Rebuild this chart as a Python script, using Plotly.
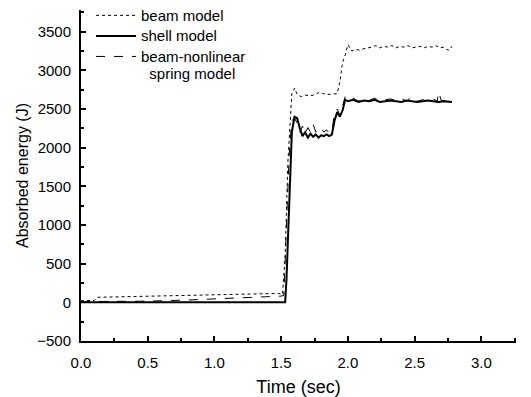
import plotly.graph_objects as go

# Beam model (dotted)
beam_t = [0.0, 0.05, 0.10, 0.12, 0.3, 0.5, 0.8, 1.0, 1.2, 1.4, 1.48, 1.51, 1.53, 1.55, 1.57, 1.58, 1.60, 1.62, 1.65,
          1.68, 1.72, 1.76, 1.79, 1.81, 1.84, 1.88, 1.92, 1.94, 1.96, 1.98, 2.00, 2.03, 2.06, 2.09, 2.12, 2.15,
          2.18, 2.21, 2.24, 2.27, 2.30, 2.33, 2.36, 2.39, 2.42, 2.45, 2.48, 2.51, 2.54, 2.57, 2.60, 2.63, 2.66,
          2.69, 2.72, 2.74, 2.76, 2.78]
beam_v = [20, 22, 25, 65, 72, 80, 88, 92, 100, 108, 115, 100, 600, 1800, 2500, 2700, 2770, 2690, 2660,
          2680, 2670, 2690, 2720, 2700, 2690, 2690, 2700, 2850, 3100, 3200, 3330, 3250, 3270, 3260, 3280, 3290,
          3300, 3320, 3290, 3310, 3300, 3320, 3290, 3310, 3300, 3320, 3290, 3300, 3310, 3290, 3310, 3300, 3320,
          3290, 3300, 3270, 3260, 3310]

# Shell model (solid)
shell_t = [0.0, 0.5, 1.0, 1.53, 1.54, 1.56, 1.58, 1.60, 1.62, 1.64, 1.66, 1.68, 1.70, 1.72, 1.74, 1.76, 1.78,
           1.80, 1.82, 1.84, 1.86, 1.88, 1.90, 1.92, 1.94, 1.96, 1.98, 2.00, 2.04, 2.08, 2.12, 2.16, 2.20, 2.24,
           2.28, 2.32, 2.36, 2.40, 2.44, 2.48, 2.52, 2.56, 2.60, 2.64, 2.68, 2.72, 2.78]
shell_v = [0, 0, 0, 0, 300, 1400, 2200, 2400, 2380, 2250, 2150, 2200, 2130, 2180, 2140, 2170, 2130, 2160,
           2150, 2170, 2150, 2170, 2350, 2460, 2400, 2480, 2620, 2600, 2620, 2590, 2610, 2600, 2620, 2590,
           2600, 2610, 2600, 2590, 2610, 2600, 2590, 2600, 2610, 2600, 2590, 2600, 2590]

# Beam-nonlinear spring model (dashed)
bns_t = [0.0, 0.2, 0.5, 0.8, 1.0, 1.2, 1.4, 1.50, 1.52, 1.54, 1.56, 1.58, 1.60, 1.62, 1.64, 1.66, 1.68, 1.70,
         1.72, 1.74, 1.76, 1.78, 1.80, 1.82, 1.84, 1.86, 1.88, 1.90, 1.92, 1.94, 1.96, 1.98, 2.00, 2.04, 2.08,
         2.12, 2.16, 2.20, 2.24, 2.28, 2.32, 2.36, 2.40, 2.44, 2.48, 2.52, 2.56, 2.60, 2.64, 2.67, 2.68, 2.70,
         2.74, 2.78]
bns_v = [10, 12, 15, 30, 45, 55, 70, 80, 90, 900, 1900, 2350, 2380, 2320, 2200, 2280, 2180, 2260, 2200,
         2300, 2200, 2260, 2250, 2200, 2230, 2190, 2210, 2450, 2500, 2420, 2560, 2660, 2620, 2640, 2600, 2630,
         2610, 2640, 2600, 2620, 2630, 2610, 2640, 2600, 2660, 2600, 2620, 2600, 2630, 2600, 2720, 2610,
         2600, 2600]

names = ["beam model", "shell model", "beam-nonlinear<br>\u00a0\u00a0spring model"]


def big(s):
    return "<br>".join('<span style="font-size:15px">%s</span>' % p for p in s.split("<br>"))


fig = go.Figure()
fig.add_trace(go.Scatter(x=beam_t, y=beam_v, mode="lines", name=big(names[0]),
                         line=dict(color="black", width=1, dash="dot")))
fig.add_trace(go.Scatter(x=shell_t, y=shell_v, mode="lines", name=big(names[1]),
                         line=dict(color="black", width=2)))
fig.add_trace(go.Scatter(x=bns_t, y=bns_v, mode="lines", name=big(names[2]),
                         line=dict(color="black", width=1, dash="dash")))

font = "Liberation Sans, Arial, sans-serif"
fig.update_layout(
    width=531, height=397,
    margin=dict(l=81, r=15, t=10, b=56, autoexpand=False),
    paper_bgcolor="white", plot_bgcolor="white",
    font=dict(family=font, size=15, color="black"),
    showlegend=True,
    legend=dict(x=0.023, y=1.03, xanchor="left", yanchor="top", valign="top",
                bgcolor="rgba(0,0,0,0)", font=dict(size=13.5), tracegroupgap=0, itemwidth=40),
    xaxis=dict(range=[0, 3.26], tickvals=[0, 0.5, 1.0, 1.5, 2.0, 2.5, 3.0],
               ticktext=["0.0", "0.5", "1.0", "1.5", "2.0", "2.5", "3.0"],
               showline=True, linecolor="black", linewidth=2, mirror=False,
               ticks="inside", ticklen=5, tickwidth=2, tickcolor="black", ticklabelstandoff=7,
               minor=dict(dtick=0.25, ticks="inside", ticklen=3, tickcolor="black", tickwidth=1.5),
               showgrid=False, zeroline=False,
               title=dict(text="Time (sec)", font=dict(size=18), standoff=12)),
    yaxis=dict(range=[-500, 3780], tickvals=[-500, 0, 500, 1000, 1500, 2000, 2500, 3000, 3500],
               showline=True, linecolor="black", linewidth=2, mirror=False,
               ticks="inside", ticklen=5, tickwidth=2, tickcolor="black", ticklabelstandoff=5,
               minor=dict(dtick=250, ticks="inside", ticklen=3, tickcolor="black", tickwidth=1.5),
               showgrid=False, zeroline=False,
               title=dict(text="Absorbed energy (J)", font=dict(size=16), standoff=5)),
)

fig.write_html("out.html")
